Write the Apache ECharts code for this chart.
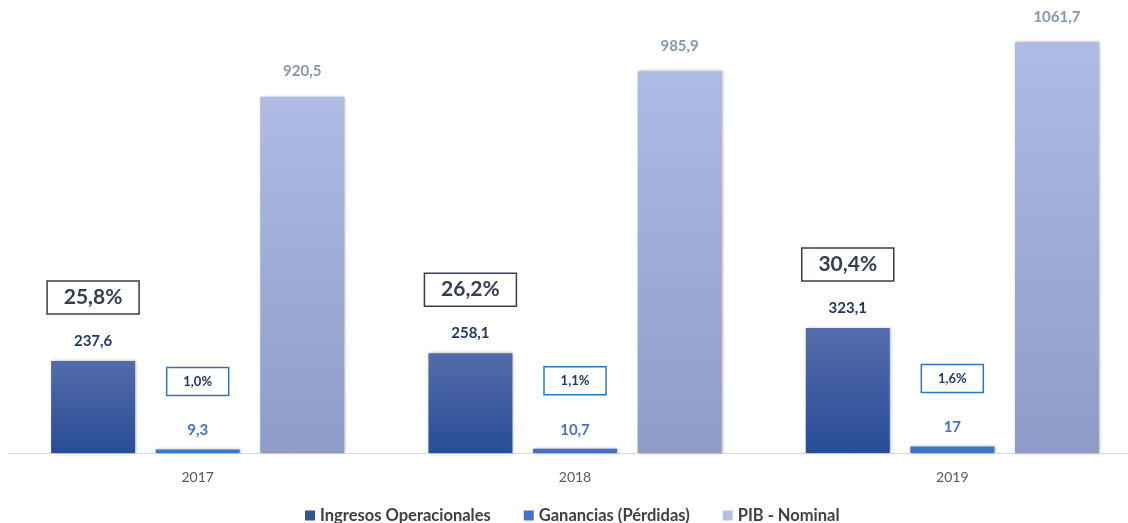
<!DOCTYPE html>
<html><head><meta charset="utf-8">
<script src="https://cdn.jsdelivr.net/npm/echarts@6/dist/echarts.min.js"></script>
<style>html,body{margin:0;padding:0;background:#fff}#c{width:1128px;height:523px}</style>
</head><body><div id="c"></div>
<script>
const categories = ['2017', '2018', '2019'];
const ingresos = [237.6, 258.1, 323.1];
const ganancias = [9.3, 10.7, 17];
const pib = [920.5, 985.9, 1061.7];
const pctIngresos = [25.8, 26.2, 30.4];
const pctGanancias = [1.0, 1.1, 1.6];
const seriesNames = ['Ingresos Operacionales', 'Ganancias (Pérdidas)', 'PIB - Nominal'];

const FONT = 'Lato';
const fmt = v => String(v).replace('.', ',');
const fmtPct = v => v.toFixed(1).replace('.', ',') + '%';
const grad = (a, b) => new echarts.graphic.LinearGradient(0, 0, 0, 1, [{offset: 0, color: a}, {offset: 1, color: b}]);
const shadow = {shadowBlur: 3, shadowColor: 'rgba(0,0,0,0.35)', shadowOffsetX: 1, shadowOffsetY: 0};

const chart = echarts.init(document.getElementById('c'), null, {renderer: 'canvas'});
chart.setOption({
  animation: false,
  backgroundColor: '#fff',
  textStyle: {fontFamily: FONT},
  grid: {left: 9, width: 1132, top: 8, bottom: 70, outerBoundsMode: 'none', containLabel: false},
  legend: {
    top: 502, left: 300, padding: 5, itemWidth: 10, itemHeight: 10, itemGap: 33, icon: 'rect',
    textStyle: {fontFamily: FONT, fontSize: 16.5, fontWeight: 'bold', color: '#404040'},
    data: [
      {name: seriesNames[0], itemStyle: {color: '#2F5597'}},
      {name: seriesNames[1], itemStyle: {color: '#4472C4'}},
      {name: seriesNames[2], itemStyle: {color: '#B4C1E4'}}
    ]
  },
  xAxis: {
    type: 'category', data: categories,
    axisLine: {lineStyle: {color: '#D9D9D9', width: 1}},
    axisTick: {show: false},
    axisLabel: {color: '#595959', fontSize: 14, margin: 17, fontFamily: FONT}
  },
  yAxis: {type: 'value', min: 0, max: 1150, show: false, splitLine: {show: false}},
  series: [
    {
      name: seriesNames[0], type: 'bar', barWidth: 84, barGap: '24.5%',
      data: ingresos,
      itemStyle: Object.assign({color: grad('#546CAA', '#274C97')}, shadow),
      label: {
        show: true, position: 'top', distance: 10,
        formatter: p => '{box|' + fmtPct(pctIngresos[p.dataIndex]) + '}\n{sp| }\n{val|' + fmt(p.value) + '}',
        rich: {
          box: {fontFamily: FONT, fontSize: 21, fontWeight: 'bold', color: '#333F50', borderColor: '#333F50', borderWidth: 1.5,
                width: 92, height: 33, lineHeight: 35, align: 'center'},
          sp: {fontSize: 10, lineHeight: 16},
          val: {fontFamily: FONT, fontSize: 15, fontWeight: 'bold', color: '#203864', lineHeight: 20, align: 'center'}
        }
      }
    },
    {
      name: seriesNames[1], type: 'bar', barWidth: 84,
      data: ganancias,
      itemStyle: Object.assign({color: '#4472C4'}, shadow),
      label: {
        show: true, position: 'top', distance: 9,
        formatter: p => '{box|' + fmtPct(pctGanancias[p.dataIndex]) + '}\n{sp| }\n{val|' + fmt(p.value) + '}',
        rich: {
          box: {fontFamily: FONT, fontSize: 13, fontWeight: 'bold', color: '#203864', borderColor: '#2E75B6', borderWidth: 1.5,
                width: 62, height: 28, lineHeight: 30, align: 'center'},
          sp: {fontSize: 10, lineHeight: 24},
          val: {fontFamily: FONT, fontSize: 15, fontWeight: 'bold', color: '#4472C4', lineHeight: 20, align: 'center'}
        }
      }
    },
    {
      name: seriesNames[2], type: 'bar', barWidth: 84,
      data: pib,
      itemStyle: Object.assign({color: grad('#AEBBE2', '#8E9CC7')}, shadow),
      label: {
        show: true, position: 'top', distance: 18,
        formatter: p => fmt(p.value),
        fontFamily: FONT, fontSize: 15, fontWeight: 'bold', color: '#8497B0'
      }
    }
  ]
});
</script>
</body></html>
